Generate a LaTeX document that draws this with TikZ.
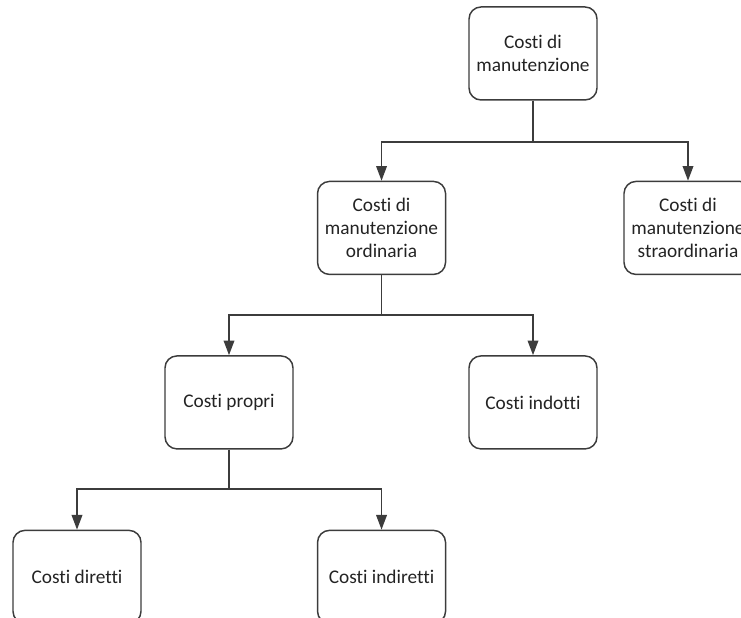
\documentclass[tikz,border=0pt]{standalone}
\usepackage{fontspec}
\setmainfont{Carlito}[Ligatures={NoCommon}]
\usetikzlibrary{positioning,arrows.meta}
\definecolor{mcline}{RGB}{60,60,60}
\definecolor{mctext}{RGB}{35,35,35}
\tikzset{
  costbox/.style={
    draw=mcline, line width=1.1pt, rounded corners=9pt, align=center,
    minimum width=96pt, minimum height=69.75pt, inner sep=2pt,
    font=\fontsize{14.5}{17}\selectfont, text=mctext
  },
  ar/.style={-{Triangle[length=11pt,width=8pt]}, draw=mcline, line width=1.1pt},
}

\begin{document}
\begin{tikzpicture}

  \useasboundingbox (0,0) rectangle (555.75pt,-462.75pt);
  \clip (0,0) rectangle (555.75pt,-462.75pt);

  % ===== tree of maintenance costs =====
  \node[costbox] (manut) at (399.75pt,-40.1pt) {Costi di\\manutenzione};

  \node[costbox, below=60pt of manut, xshift=-113.6pt] (ordin) {Costi di\\manutenzione\\ordinaria};
  \node[costbox, below=60pt of manut, xshift=116.25pt] (straord) {Costi di\\manutenzione\\straordinaria};

  \node[costbox, below=60pt of ordin, xshift=-114.4pt] (propri) {Costi propri};
  \node[costbox, below=60pt of ordin, xshift=113.6pt] (indotti) {Costi indotti};

  \node[costbox, below=60pt of propri, xshift=-114pt] (diretti) {Costi diretti};
  \node[costbox, below=60pt of propri, xshift=114.4pt] (indiretti) {Costi indiretti};

  % ===== edges =====
  \draw[ar] (manut.south) -- ++(0,-31pt) -| (ordin.north);
  \draw[ar] (manut.south) -- ++(0,-31pt) -| (straord.north);
  \draw[ar] (ordin.south) -- ++(0,-30pt) -| (propri.north);
  \draw[ar] (ordin.south) -- ++(0,-30pt) -| (indotti.north);
  \draw[ar] (propri.south) -- ++(0,-29.5pt) -| (diretti.north);
  \draw[ar] (propri.south) -- ++(0,-29.5pt) -| (indiretti.north);

\end{tikzpicture}
\end{document}
